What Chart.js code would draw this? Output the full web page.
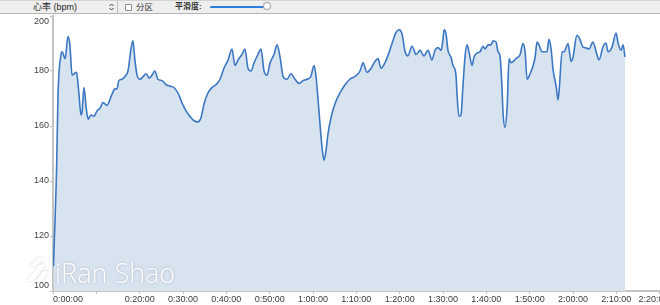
<!DOCTYPE html>
<html>
<head>
<meta charset="utf-8">
<script src="https://cdn.jsdelivr.net/npm/chart.js@4"></script>
<style>
  html, body { margin:0; padding:0; background:#fff; overflow:hidden; width:660px; height:305px; }
  #bar { position:absolute; left:0; top:0; width:660px; height:12px; background:#efefef;
         border-top:1px solid #d4d4d4; border-bottom:1px solid #b4b4b4; z-index:5;
         font-family:"Liberation Sans","Noto Sans CJK SC",sans-serif; color:#222; }
  #bar span { position:absolute; white-space:nowrap; line-height:12px; top:0; }
  #sep { position:absolute; left:117px; top:0; width:1px; height:12px; background:#bdbdbd; }
  #chk { position:absolute; left:125px; top:3px; width:5px; height:5px; border:1px solid #8a8a8a; background:#fff; border-radius:1px; }
  #track { position:absolute; left:210px; top:5px; width:56px; height:2px; background:#2f7ddf; border-radius:1px; }
  #knob { position:absolute; left:263px; top:1px; width:8px; height:8px; border-radius:50%; background:#fff; border:1px solid #a8a8a8; box-sizing:border-box; box-shadow:0 0 1px rgba(0,0,0,0.25); }
  #wrap { position:absolute; left:0; top:14px; width:720px; height:291px; }
  #wm { position:absolute; left:55px; top:259px; font-family:"Open Sans",sans-serif; font-weight:300;
        font-size:27px; line-height:27px; color:rgba(255,255,255,0.95); text-shadow:0 0 3px rgba(0,0,0,0.22); z-index:4; }
  #logo { position:absolute; left:25px; top:256px; z-index:4; }
</style>
</head>
<body>
<div id="bar">
  <span style="left:33px;font-size:9px;">心率 (bpm)</span>
  <svg style="position:absolute;left:108px;top:1px" width="7" height="10" viewBox="0 0 7 10">
    <polyline points="1.5,4 3.5,2 5.5,4" fill="none" stroke="#444" stroke-width="1"/>
    <polyline points="1.5,6 3.5,8 5.5,6" fill="none" stroke="#444" stroke-width="1"/>
  </svg>
  <div id="sep"></div>
  <div id="chk"></div>
  <span style="left:136px;font-size:8.5px;color:#333;">分区</span>
  <span style="left:175px;font-size:8px;font-weight:bold;color:#333;">平滑度:</span>
  <div id="track"></div>
  <div id="knob"></div>
</div>
<div id="wrap"><canvas id="c"></canvas></div>
<svg id="logo" width="27" height="27" viewBox="0 0 30 32">
  <defs><filter id="sh" x="-30%" y="-30%" width="160%" height="160%"><feDropShadow dx="0" dy="0" stdDeviation="1.2" flood-color="#000" flood-opacity="0.25"/></filter></defs>
  <g fill="rgba(255,255,255,0.95)" filter="url(#sh)">
    <polygon points="14,2 22,2 12,12 4,12"/>
    <polygon points="16,10 24,10 8,30 1,30"/>
    <polygon points="20,18 27,18 19,30 12,30"/>
  </g>
</svg>
<div id="wm">iRan Shao</div>
<script>
// elapsed time (minutes)
const timeMin = [0.1,0.85,1.15,1.85,2.1,2.8,3.45,3.9,4.4,5.3,5.55,6.0,6.45,6.7,7.15,7.6,8.1,8.75,9.45,10.15,
  10.85,11.55,12.45,13.6,14.3,14.75,15.2,15.9,16.6,17.3,18.0,18.45,18.9,19.4,20.1,20.8,21.5,22.2,22.85,23.5,
  24.2,25.15,26.1,27.0,27.9,28.85,29.75,30.7,31.6,32.5,33.45,34.15,34.85,35.75,36.7,37.6,38.55,39.45,40.4,41.3,
  42.0,42.7,43.6,44.3,45.0,45.7,46.4,47.3,48.0,48.7,49.4,50.1,51.0,51.7,52.4,53.1,54.0,54.9,55.85,56.8,
  57.7,58.6,59.5,60.25,60.7,61.15,61.6,62.1,62.55,63.0,63.45,64.15,65.05,66.2,67.4,68.5,69.7,70.85,71.55,72.45,
  73.4,74.3,75.0,75.7,76.6,77.5,78.45,79.15,79.85,80.55,81.25,81.9,82.85,83.8,84.7,85.6,86.55,87.45,88.15,88.85,
  89.55,90.0,90.25,90.7,91.15,91.85,92.3,93.0,93.25,93.7,94.15,94.6,95.1,95.55,96.0,96.7,97.15,97.85,98.55,99.25,
  99.7,100.4,101.1,101.55,102.25,102.7,103.15,103.6,103.85,104.3,104.8,105.25,105.7,106.2,106.85,107.3,107.8,108.45,108.95,109.4,
  110.1,110.8,111.25,111.7,112.15,112.85,113.3,114.0,114.45,114.95,115.4,116.1,116.55,116.8,117.5,117.95,118.4,118.85,119.55,120.0,
  120.9,121.6,122.3,123.0,123.7,124.6,125.55,126.0,126.9,127.6,128.1,129.0,129.95,130.4,131.1,131.55,132.0];
// heart rate (bpm)
const heartRate = [109,146,171,186,187,184.5,192.5,189.5,178.5,179.5,178.5,171.5,164,165,174,167.5,162.5,164,163.5,165.5,
  166.5,168.5,167.5,171.5,173.5,173.5,176.5,177,178,180,188,191,184,178.5,177,178,179,177.5,178.5,180,
  177,176.5,175,174.5,174,172,168.5,165.5,163.5,162,161.5,163,168,172,174,175,177,181,184,188,
  182,184,186,188,181,180,183,186,188,180,178.5,183,186,189.5,185,178,177,179,177,175.5,
  176.5,177,178,182,178,170,161,152,147.5,151,157,163,168,172,175,177,178,180,183,179.5,
  181,183.5,184.5,181,183,186.5,191,194,195,193.5,187,185.5,189,186,187.5,185.5,187.5,184,187.5,188.5,
  187.5,191.5,195,193.5,187.5,185,182,178.5,171,163.5,164,174.5,185.5,189.5,187,182,185,186.5,187,189,
  188,189.5,189.5,191,190.5,187,185.5,174.5,165,159.5,167,184.5,183,183.5,184.5,185,186,190,187,177,
  179,182,185,190.5,189.5,187,187,187,191.5,188,180.5,174.5,169.5,173,187,187,188.5,190,183.5,185,
  193,191.5,188.7,188.4,188,190.5,185.8,184,188.7,190.2,187,188.7,193.8,190.2,187.6,189.5,185.1];
// axis ticks
const xTickMinutes = [0,10,20,30,40,50,60,70,80,90,100,110,120,130,140,150];
const yTickValues = [100,120,140,160,180,200];
const hiddenXTicks = [10];
const edgeXTick = 140; // label pulled slightly inward at the window edge

function fmtTime(m) {
  const h = Math.floor(m / 60), mm = Math.round(m % 60);
  return h + ':' + String(mm).padStart(2, '0') + ':00';
}

Chart.defaults.font.family = '"Liberation Sans", Arial, sans-serif';
Chart.defaults.font.size = 9;
Chart.defaults.color = '#3c3c3c';

const points = timeMin.map((t, i) => ({ x: t, y: heartRate[i] }));

new Chart(document.getElementById('c'), {
  type: 'line',
  data: {
    datasets: [{
      data: points,
      borderColor: '#3b77c3',
      backgroundColor: '#d8e3f0',
      borderWidth: 1.6,
      pointRadius: 0,
      fill: 'start',
      cubicInterpolationMode: 'monotone'
    }]
  },
  options: {
    responsive: true,
    maintainAspectRatio: false,
    animation: false,
    events: [],
    layout: { padding: { top: 2, right: 17, left: 0, bottom: 0 } },
    plugins: { legend: { display: false }, tooltip: { enabled: false } },
    scales: {
      x: {
        type: 'linear',
        min: xTickMinutes[0],
        max: xTickMinutes[xTickMinutes.length - 1],
        afterBuildTicks: s => { s.ticks = xTickMinutes.map(v => ({ value: v })); },
        afterFit: s => { s.height = 14; s.paddingLeft = 0; s.paddingRight = 0; },
        ticks: {
          autoSkip: false, maxRotation: 0, minRotation: 0, padding: 0, align: 'inner',
          color: '#3c3c3c',
          callback: v => hiddenXTicks.includes(v) ? '' : (v === edgeXTick ? fmtTime(v) + '     ' : fmtTime(v))
        },
        grid: { display: true, drawOnChartArea: false, drawTicks: true, tickLength: 3, color: '#bdbdbd' },
        border: { display: true, color: '#c4c4c4', width: 2 }
      },
      y: {
        min: yTickValues[0],
        max: yTickValues[yTickValues.length - 1],
        afterBuildTicks: s => { s.ticks = yTickValues.map(v => ({ value: v })); },
        afterFit: s => { s.width = 53; s.paddingTop = 0; s.paddingBottom = 0; },
        ticks: {
          padding: 1,
          color: '#444',
          callback: v => v === 200 ? ['', '200'] : (v === 100 ? ['100', ''] : String(v))
        },
        grid: { display: true, drawOnChartArea: false, drawTicks: true, tickLength: 3, color: '#bdbdbd' },
        border: { display: true, color: '#c4c4c4', width: 2 }
      }
    }
  }
});
</script>
</body>
</html>
